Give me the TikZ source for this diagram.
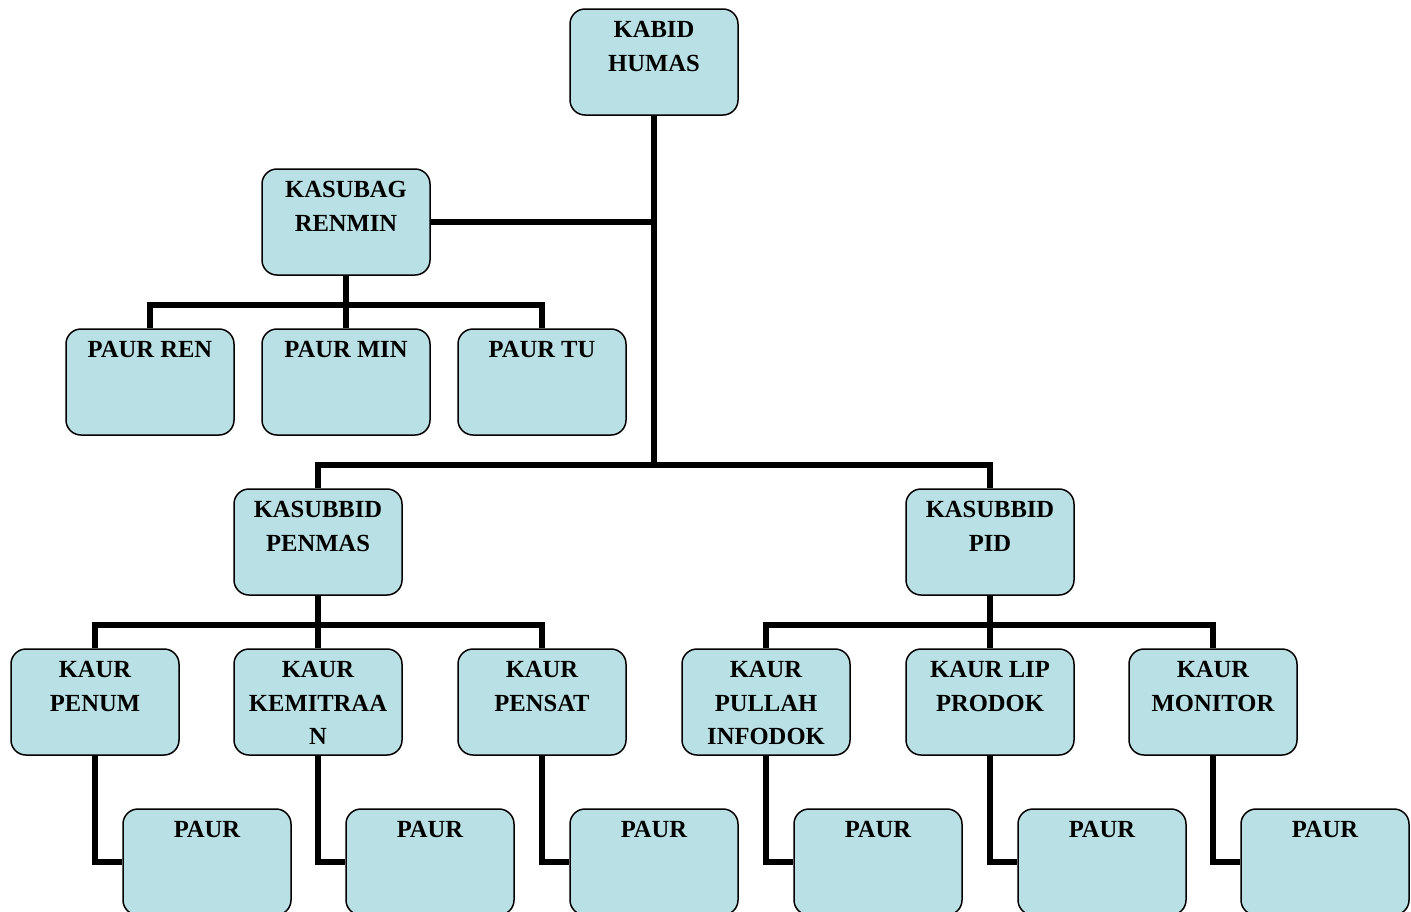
\documentclass[tikz,border=0pt]{standalone}
\usepackage{fontspec}
\setmainfont{Liberation Serif}
\definecolor{boxfill}{RGB}{185,224,228}
\tikzset{
  orgbox/.style={draw=black, line width=1.5pt, fill=boxfill, rounded corners=15pt,
    minimum width=168pt, minimum height=106pt, inner sep=0pt},
  lbl/.style={anchor=north, inner sep=0pt, align=center,
    font=\fontsize{24.6}{33.5}\selectfont\bfseries},
  conn/.style={line width=5.5pt, draw=black},
}
\newcommand{\obox}[4]{%
  \node[orgbox] (#1) at (#2,#3) {};
  \node[lbl] (#1l) at ([yshift=-13pt]#1.north) {#4};
}
\begin{document}
\begin{tikzpicture}[x=1pt,y=-1pt]
\useasboundingbox (0,0) rectangle (1411,911);
\coordinate (trunk2) at (654,465);
\coordinate (ren) at (346,305);
\coordinate (pen) at (318,625);
\coordinate (pid) at (990,625);

\obox{kabid}{654}{62}{KABID\\HUMAS}
\obox{kasubag}{346}{222}{KASUBAG\\RENMIN}
\obox{pren}{150}{382}{PAUR REN}
\obox{pmin}{346}{382}{PAUR MIN}
\obox{ptu}{542}{382}{PAUR TU}
\obox{penmas}{318}{542}{KASUBBID\\PENMAS}
\obox{kpid}{990}{542}{KASUBBID\\PID}
\obox{penum}{95}{702}{KAUR\\PENUM}
\obox{kemit}{318}{702}{KAUR\\KEMITRAA\\N}
\obox{pensat}{542}{702}{KAUR\\PENSAT}
\obox{pullah}{766}{702}{KAUR\\PULLAH\\INFODOK}
\obox{lip}{990}{702}{KAUR LIP\\PRODOK}
\obox{monitor}{1213}{702}{KAUR\\MONITOR}
\obox{pa1}{207}{862}{PAUR}
\obox{pa2}{430}{862}{PAUR}
\obox{pa3}{654}{862}{PAUR}
\obox{pa4}{878}{862}{PAUR}
\obox{pa5}{1102}{862}{PAUR}
\obox{pa6}{1325}{862}{PAUR}

\coordinate (trunk1) at (kasubag.east -| kabid.south);
\draw[conn] (kabid.south) -- (trunk2);
\draw[conn] (kasubag.east) -- (trunk1);
\draw[conn] (penmas.north) |- (trunk2) -| (kpid.north);
\draw[conn] (kasubag.south) -- (ren);
\draw[conn] (pren.north) |- (ren) -| (ptu.north);
\draw[conn] (ren) -- (pmin.north);
\draw[conn] (penmas.south) -- (pen);
\draw[conn] (penum.north) |- (pen) -| (pensat.north);
\draw[conn] (pen) -- (kemit.north);
\draw[conn] (kpid.south) -- (pid);
\draw[conn] (pullah.north) |- (pid) -| (monitor.north);
\draw[conn] (pid) -- (lip.north);
\draw[conn] (penum.south) |- (pa1.west);
\draw[conn] (kemit.south) |- (pa2.west);
\draw[conn] (pensat.south) |- (pa3.west);
\draw[conn] (pullah.south) |- (pa4.west);
\draw[conn] (lip.south) |- (pa5.west);
\draw[conn] (monitor.south) |- (pa6.west);
\end{tikzpicture}
\end{document}
